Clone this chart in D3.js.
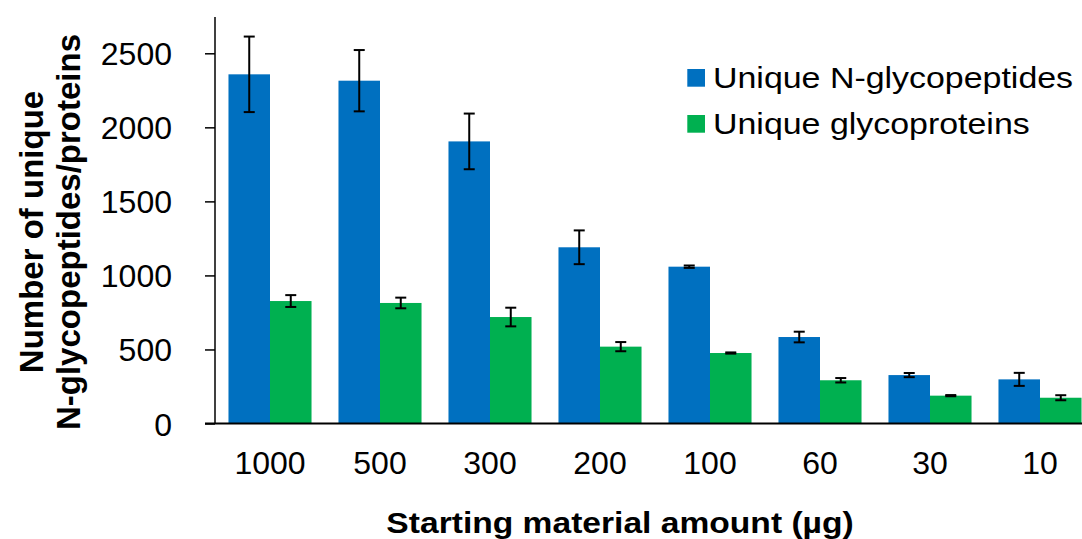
<!DOCTYPE html>
<html><head><meta charset="utf-8">
<script src="https://cdn.jsdelivr.net/npm/d3@7"></script>
<style>body{margin:0;background:#fff}svg{display:block}text{font-family:"Liberation Sans",Arial,sans-serif}</style>
</head><body>
<script>
const categories = ["1000","500","300","200","100","60","30","10"];
const seriesNames = ["Unique N-glycopeptides","Unique glycoproteins"];
const peptides = [2358, 2315, 1905, 1190, 1059, 584, 327, 298];
const peptidesErr = [255, 207, 188, 114, 8, 36, 14, 44];
const proteins = [827, 814, 719, 519, 476, 292, 188, 174];
const proteinsErr = [40, 36, 63, 31, 4, 15, 4, 17];
const yTicks = [0, 500, 1000, 1500, 2000, 2500];
const colors = ["#0070C0", "#00B050"];

const W = 1082, H = 539;
const svg = d3.select("body").append("svg").attr("width", W).attr("height", H);

const y = d3.scaleLinear().domain([0, 2500]).range([423.5, 53.3]);
const x = d3.scaleBand().domain(categories).range([215, 1095]).paddingInner(0.245).paddingOuter(0.1225);
const xs = d3.scaleBand().domain(seriesNames).range([0, x.bandwidth()]);

const series = [
  {name: seriesNames[0], vals: peptides, errs: peptidesErr, color: colors[0]},
  {name: seriesNames[1], vals: proteins, errs: proteinsErr, color: colors[1]}
];

// bars
series.forEach(s => {
  svg.append("g").selectAll("rect").data(categories).join("rect")
    .attr("x", c => x(c) + xs(s.name))
    .attr("y", (c, i) => y(s.vals[i]))
    .attr("width", xs.bandwidth())
    .attr("height", (c, i) => y(0) - y(s.vals[i]))
    .attr("fill", s.color);
});

// error bars
series.forEach(s => {
  const g = svg.append("g").attr("stroke", "#000").attr("stroke-width", 2);
  categories.forEach((c, i) => {
    const cx = x(c) + xs(s.name) + xs.bandwidth() / 2;
    const y1 = y(s.vals[i] + s.errs[i]), y2 = y(s.vals[i] - s.errs[i]);
    g.append("line").attr("x1", cx).attr("x2", cx).attr("y1", y1).attr("y2", y2);
    g.append("line").attr("x1", cx - 5.5).attr("x2", cx + 5.5).attr("y1", y1).attr("y2", y1);
    g.append("line").attr("x1", cx - 5.5).attr("x2", cx + 5.5).attr("y1", y2).attr("y2", y2);
  });
});

// y axis
const yAxis = d3.axisLeft(y).tickValues(yTicks).tickSize(10).tickPadding(33).tickFormat(d3.format("d"));
const ya = svg.append("g").attr("transform", "translate(215,0)").call(yAxis);
ya.select(".domain").remove();
ya.selectAll(".tick line").attr("stroke", "#000").attr("stroke-width", 1.5);
ya.selectAll(".tick text").attr("font-size", 32).attr("fill", "#000")
  .attr("font-family", "'Liberation Sans', Arial, sans-serif").attr("dy", "0.36em");
svg.append("line").attr("x1", 215).attr("x2", 215).attr("y1", 17).attr("y2", y(0)).attr("stroke", "#000").attr("stroke-width", 1.5);

// x axis
const xAxis = d3.axisBottom(x).tickSize(0).tickPadding(28);
const xa = svg.append("g").attr("transform", `translate(0,${y(0)})`).call(xAxis);
xa.select(".domain").remove();
xa.selectAll(".tick text").attr("font-size", 32).attr("fill", "#000")
  .attr("font-family", "'Liberation Sans', Arial, sans-serif").attr("dy", "0.71em");
svg.append("line").attr("x1", 205).attr("x2", W).attr("y1", y(0)).attr("y2", y(0)).attr("stroke", "#000").attr("stroke-width", 2);

// axis titles
svg.append("text").attr("transform", `translate(620,533) scale(1.12,1)`)
  .attr("text-anchor", "middle").attr("font-size", 30).attr("font-weight", "bold").text("Starting material amount (µg)");
const yt = svg.append("text").attr("transform", `translate(0,232) rotate(-90)`)
  .attr("text-anchor", "middle").attr("font-size", 33).attr("font-weight", "bold");
yt.append("tspan").attr("x", 0).attr("y", 43).text("Number of unique");
yt.append("tspan").attr("x", 0).attr("y", 80).text("N-glycopeptides/proteins");

// legend
series.forEach((s, i) => {
  const ly = 69 + i * 46;
  svg.append("rect").attr("x", 687.3).attr("y", ly).attr("width", 17.7).attr("height", 17.7).attr("fill", s.color);
  svg.append("text").attr("transform", `translate(713,${ly + 19.3}) scale(1.17,1)`)
    .attr("font-size", 29).attr("fill", "#000").text(s.name);
});
</script>
</body></html>
